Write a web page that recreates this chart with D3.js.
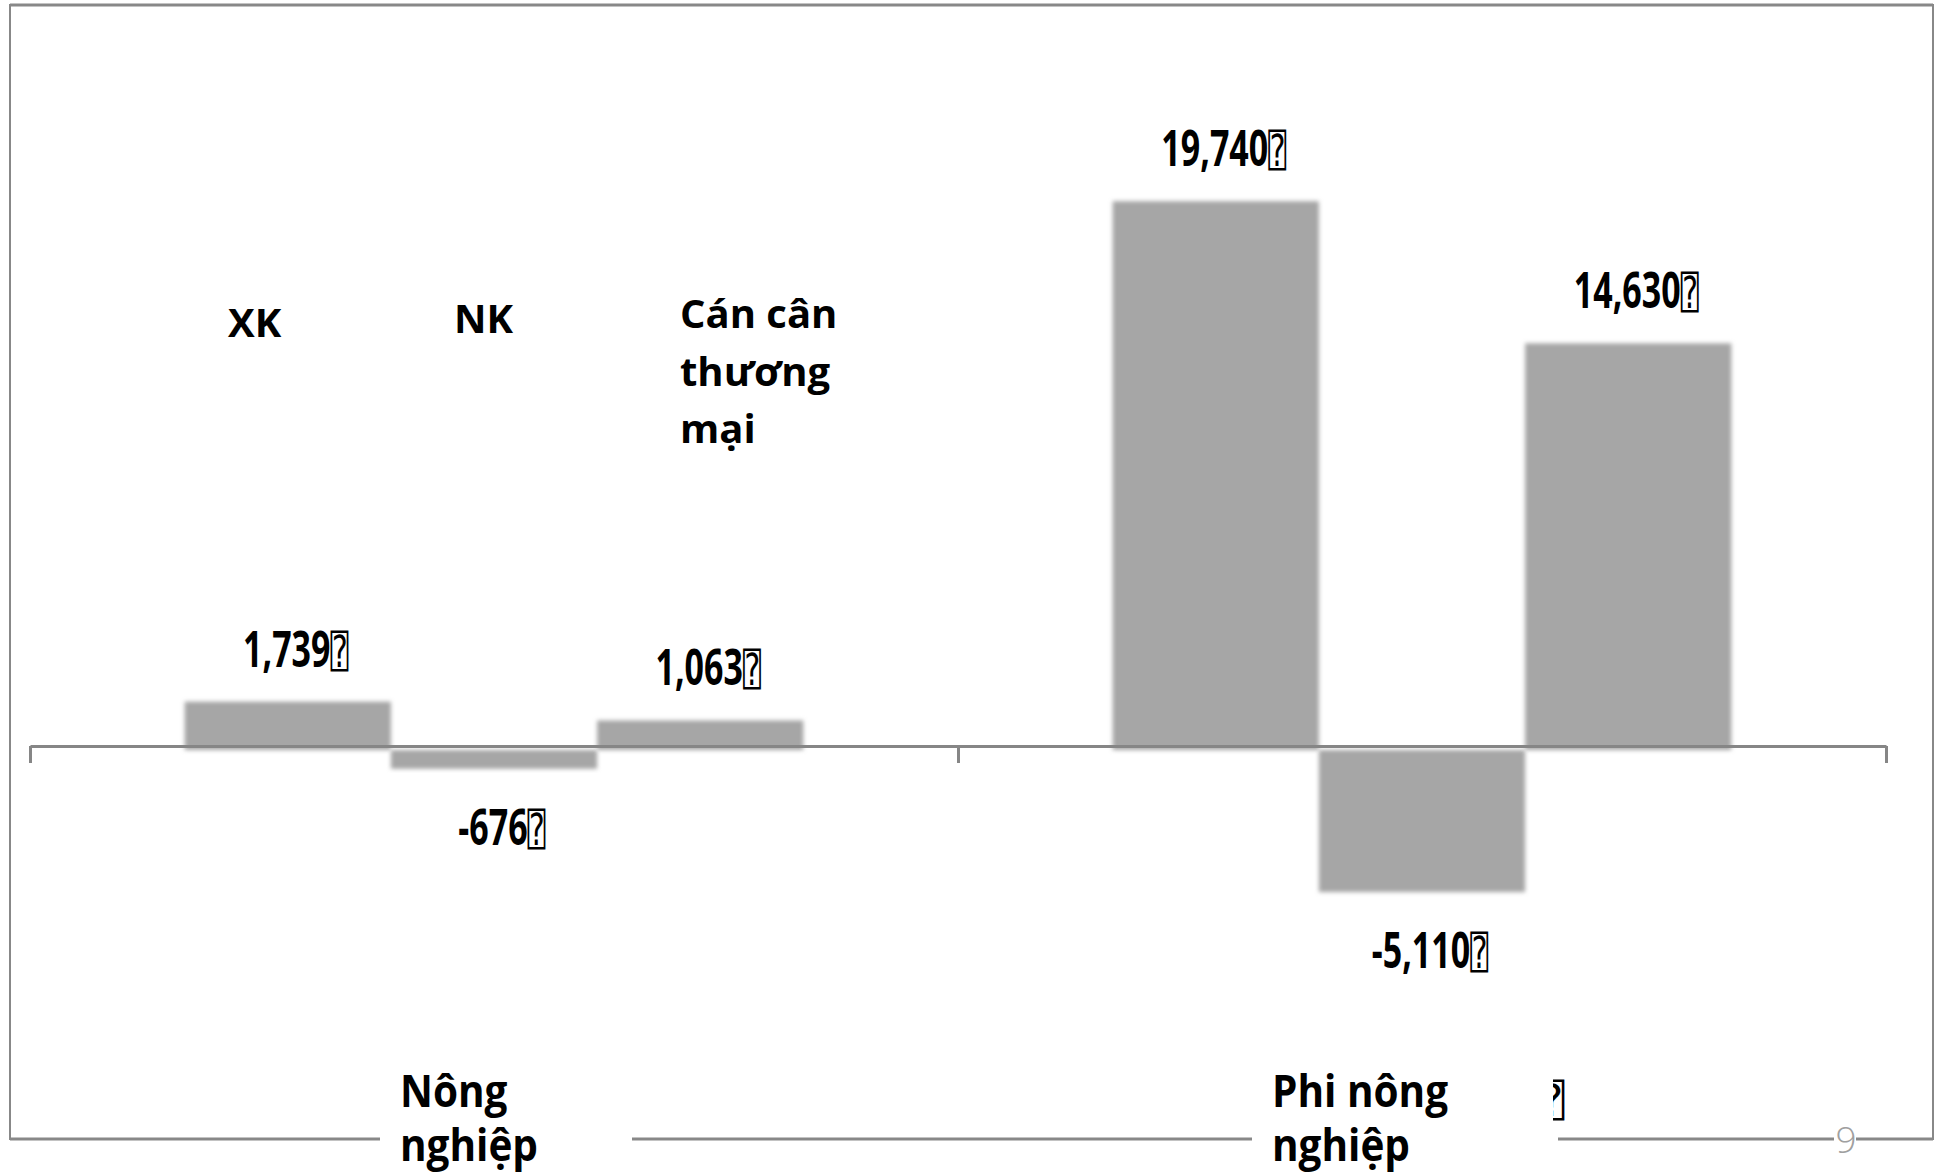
<!DOCTYPE html>
<html>
<head>
<meta charset="utf-8">
<script src="https://cdn.jsdelivr.net/npm/d3@7"></script>
<style>
  html, body { margin: 0; padding: 0; background: #fff; }
  svg { display: block; }
</style>
</head>
<body>
<div id="chart"></div>
<script>
// data (triệu USD)
const groups = ["Nông nghiệp", "Phi nông nghiệp"];
const seriesNames = ["XK", "NK", "Cán cân thương mại"];
const nongNghiep = [1739, -676, 1063];
const phiNongNghiep = [19740, -5110, 14630];
const unitGlyph = "\u2370";
const pageNumber = "9";

const rows = groups.map((g, i) => ({group: g, values: [nongNghiep, phiNongNghiep][i]}));

const width = 1943, height = 1173;
const font = "'Open Sans', 'DejaVu Sans', sans-serif";
const grey = "#888888";
const fmt = d3.formatLocale({decimal: ".", thousands: ",", grouping: [3], currency: ["", ""], minus: "-"}).format(",");

const svg = d3.select("#chart").append("svg")
    .attr("width", width)
    .attr("height", height)
    .attr("viewBox", [0, 0, width, height]);

const defs = svg.append("defs");
// bars look slightly blurred and pushed down, like the slide export
const soft = defs.append("filter").attr("id", "soft")
    .attr("x", "-10%").attr("y", "-40%").attr("width", "120%").attr("height", "180%");
soft.append("feGaussianBlur").attr("in", "SourceGraphic").attr("stdDeviation", 2.2).attr("result", "b");
soft.append("feOffset").attr("in", "b").attr("dx", 0).attr("dy", 4);

// slide frame
svg.append("rect")
    .attr("x", 10).attr("y", 5)
    .attr("width", 1923).attr("height", 1134)
    .attr("fill", "none")
    .attr("stroke", grey)
    .attr("stroke-width", 2);
svg.append("g")
    .selectAll("line")
    .data([5, 1139])
    .join("line")
    .attr("x1", 10).attr("x2", 1933)
    .attr("y1", d => d).attr("y2", d => d)
    .attr("stroke", grey)
    .attr("stroke-width", 3);

// scales
const x0 = d3.scaleBand().domain(groups).range([30, 1886]);
const x1 = d3.scaleBand().domain(seriesNames)
    .range([0, x0.bandwidth()])
    .paddingInner(0)
    .paddingOuter(0.75);
const y = d3.scaleLinear().domain([-10000, 20000]).range([1024, 190]);

// bars
const groupG = svg.append("g")
    .selectAll("g")
    .data(rows)
    .join("g")
    .attr("transform", d => `translate(${x0(d.group)},0)`);

groupG.selectAll("rect")
    .data(d => d.values.map((v, i) => ({series: seriesNames[i], value: v})))
    .join("rect")
    .attr("x", d => x1(d.series))
    .attr("width", x1.bandwidth())
    .attr("y", d => y(Math.max(0, d.value)))
    .attr("height", d => Math.abs(y(d.value) - y(0)))
    .attr("fill", "#a6a6a6")
    .attr("filter", "url(#soft)");

// category axis: ticks sit on group boundaries
const xEdge = d3.scaleLinear().domain([0, groups.length]).range(x0.range());
svg.append("g")
    .attr("transform", `translate(0,${y(0)})`)
    .call(d3.axisBottom(xEdge)
        .tickValues(d3.range(groups.length + 1))
        .tickFormat("")
        .tickSize(17)
        .tickSizeOuter(0))
    .call(g => g.selectAll("path, line")
        .attr("stroke", "#868686")
        .attr("stroke-width", 3));

// value labels
const valueLabel = groupG.selectAll("text.value")
    .data(d => d.values.map((v, i) => ({series: seriesNames[i], value: v})))
    .join("text")
    .attr("class", "value")
    .attr("transform", d => {
        const cx = x1(d.series) + x1.bandwidth() / 2 + 8;
        const by = d.value >= 0 ? y(d.value) - 31 : y(d.value) + 80;
        return `translate(${cx},${by}) scale(0.68,1)`;
    })
    .attr("text-anchor", "middle")
    .attr("font-family", font)
    .attr("font-weight", "bold")
    .attr("font-size", 50)
    .attr("fill", "#000");
valueLabel.append("tspan").text(d => fmt(d.value));
valueLabel.append("tspan")
    .attr("font-family", "'DejaVu Sans Mono', 'DejaVu Sans', monospace")
    .attr("font-weight", "normal")
    .attr("font-size", 44)
    .text(unitGlyph);

// word wrap helper
function wrap(text, maxWidth, lineHeight) {
    text.each(function() {
        const t = d3.select(this);
        const words = t.text().split(/\s+/);
        const x = t.attr("x");
        t.text(null);
        let line = [];
        let tspan = t.append("tspan").attr("x", x).attr("dy", 0);
        for (const w of words) {
            line.push(w);
            tspan.text(line.join(" "));
            if (tspan.node().getComputedTextLength() > maxWidth && line.length > 1) {
                line.pop();
                tspan.text(line.join(" "));
                line = [w];
                tspan = t.append("tspan").attr("x", x).attr("dy", lineHeight).text(w);
            }
        }
    });
}

// series names
const sx = d3.scalePoint().domain(seriesNames).range([228, 680]);
const sy = d3.scalePoint().domain(seriesNames).range([337, 328]);
svg.append("g")
    .selectAll("text")
    .data(seriesNames)
    .join("text")
    .attr("x", d => sx(d))
    .attr("y", d => sy(d))
    .attr("font-family", font)
    .attr("font-weight", "bold")
    .attr("font-size", 40)
    .attr("fill", "#000")
    .text(d => d)
    .call(wrap, 175, 57.6);

// group labels (white boxes cut the bottom frame line)
const groupLayout = [{dx: 370, box: 252}, {dx: 314, box: 306}];
const gl = svg.append("g")
    .selectAll("g")
    .data(groups)
    .join("g")
    .attr("transform", (d, i) => `translate(${x0(d) + groupLayout[i].dx},0)`);
gl.append("rect")
    .attr("x", -20)
    .attr("y", 1070)
    .attr("width", (d, i) => groupLayout[i].box)
    .attr("height", 103)
    .attr("fill", "#fff");
gl.append("text")
    .attr("transform", "translate(0,1107) scale(0.9,1)")
    .attr("x", 0)
    .attr("y", 0)
    .attr("font-family", font)
    .attr("font-weight", "bold")
    .attr("font-size", 45)
    .attr("fill", "#000")
    .text(d => d)
    .call(wrap, 200, 54);

// clipped unit glyph peeking out beside the second group label
defs.append("clipPath").attr("id", "peek")
    .append("rect").attr("x", 1553).attr("y", 1070).attr("width", 20).attr("height", 60);
svg.append("text")
    .attr("clip-path", "url(#peek)")
    .attr("x", 1538)
    .attr("y", 1116)
    .attr("font-family", "'DejaVu Sans Mono', monospace")
    .attr("font-size", 44)
    .attr("fill", "#000")
    .text(unitGlyph);

// page number
svg.append("rect")
    .attr("x", 1834).attr("y", 1130)
    .attr("width", 22).attr("height", 16)
    .attr("fill", "#fff");
svg.append("text")
    .attr("x", 1846)
    .attr("y", 1153)
    .attr("text-anchor", "middle")
    .attr("font-family", font)
    .attr("font-weight", 300)
    .attr("font-size", 37)
    .attr("fill", "#a0a0a0")
    .text(pageNumber);
</script>
</body>
</html>
